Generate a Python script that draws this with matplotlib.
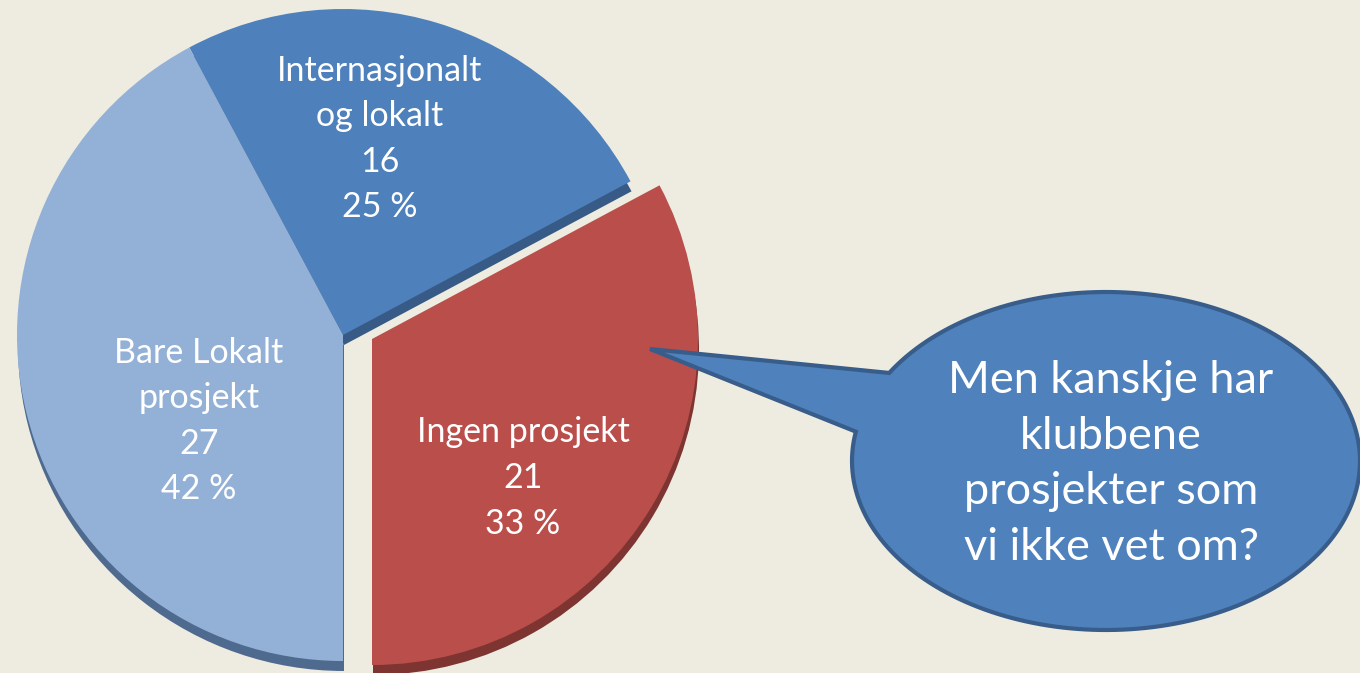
import matplotlib
matplotlib.use("Agg")
import matplotlib.pyplot as plt
import numpy as np
from matplotlib.patches import Polygon

plt.rcParams['font.family'] = ['Lato', 'DejaVu Sans']

# data
categories = ["Ingen prosjekt", "Internasjonalt\nog lokalt", "Bare Lokalt\nprosjekt"]
counts = [21, 16, 27]
colors = ["#BA4E4A", "#4E80BC", "#93B1D6"]
side_colors = ["#7E3532", "#375A86", "#4F6A8F"]
bubble_text = "Men kanskje har\nklubbene\nprosjekter som\nvi ikke vet om?"

total = sum(counts)
pcts = [round(c / total * 100) for c in counts]
labels = [f"{n}\n{c}\n{p} %" for n, c, p in zip(categories, counts, pcts)]

W, H = 1360, 673
fig = plt.figure(figsize=(W / 100, H / 100), dpi=100, facecolor="#EEECE1")
ax = fig.add_axes([0, 0, 1, 1])

center = (343, 338)
red_center = (372, 334)
radius = 326

# dark side of the "3D" pie, shifted down a little
side, _ = ax.pie(counts, colors=side_colors, startangle=-90, counterclock=True,
                 center=(center[0] + 1, center[1] - 10), radius=radius,
                 wedgeprops=dict(linewidth=0), frame=True)
side[0].set_center((red_center[0] + 1, red_center[1] - 10))

wedges, _ = ax.pie(counts, colors=colors, startangle=-90, counterclock=True,
                   center=center, radius=radius,
                   wedgeprops=dict(linewidth=0), frame=True)
wedges[0].set_center(red_center)

ax.set_xlim(0, W)
ax.set_ylim(0, H)
ax.set_aspect("equal")
ax.axis("off")

# slice labels
label_pos = [(523, H - 478), (380, H - 139), (199, H - 421)]
for txt, (x, y) in zip(labels, label_pos):
    ax.text(x, y, txt, ha="center", va="center", color="white",
            fontsize=24.5, linespacing=1.52)

# speech bubble
cx, cy, a, b = 1106, H - 461, 254, 169
t = np.radians(np.linspace(170, 360 + 148.6, 200))
pts = np.column_stack([cx + a * np.cos(t), cy + b * np.sin(t)])
tip = np.array([[650, H - 349]])
pts = np.vstack([pts, tip])
ax.add_patch(Polygon(pts, closed=True, facecolor="#4F81BD", edgecolor="#385D8A",
                     linewidth=3, joinstyle="miter", zorder=5))
ax.text(1111, H - 464, bubble_text, ha="center", va="center", color="white",
        fontsize=32.5, linespacing=1.44, zorder=6)

fig.savefig("out.png", dpi=100, facecolor=fig.get_facecolor())
